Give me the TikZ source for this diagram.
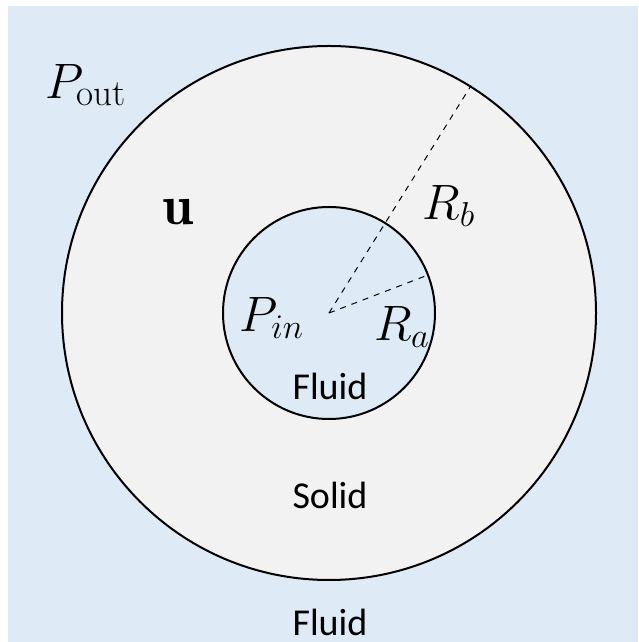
\documentclass[tikz,border=0pt]{standalone}
\usepackage{fontspec}
\setsansfont{Carlito}
\usetikzlibrary{positioning,calc}
\definecolor{fluidblue}{HTML}{DEEBF7}
\definecolor{solidgray}{HTML}{F2F2F2}
\tikzset{every picture/.style={line width=0.75pt}}

\begin{document}
\begin{tikzpicture}[x=0.5pt, y=0.5pt,
    region/.style={draw, circle, line width=1pt, inner sep=0pt},
    radius line/.style={dashed, line width=0.5pt},
    mathlabel/.style={font=\fontsize{26.5}{30}\selectfont},
    textlabel/.style={font=\sffamily\fontsize{19}{23}\selectfont}]
    \useasboundingbox (0,0) rectangle (638,642);
    \fill[fluidblue] (8,0) rectangle (638,636);

    \node[region, fill=solidgray, minimum size=267pt] (outer) at (329,329) {};
    \node[region, fill=fluidblue, minimum size=106pt] (inner) at (329,329) {};
    \coordinate (O) at (329,329);

    \draw[radius line] (O) -- (outer.58);
    \draw[radius line] (O) -- (inner.21);

    \node[mathlabel] (Pout) at (86,557) {$P_{\mathrm{out}}$};
    \node[font=\fontsize{28}{32}\selectfont] (u) at (178,430) {$\mathbf{u}$};
    \node[mathlabel] (Rb) at (449,436) {$R_b$};
    \node[mathlabel] (Pin) at (272,324) {$P_{in}$};
    \node[mathlabel] (Ra) at (402,315) {$R_a$};

    \node[textlabel] (fluidin) at (330,256) {Fluid};
    \node[textlabel] (solid) at (330,147) {Solid};
    \node[textlabel] (fluidout) at (330,20) {Fluid};
\end{tikzpicture}
\end{document}
